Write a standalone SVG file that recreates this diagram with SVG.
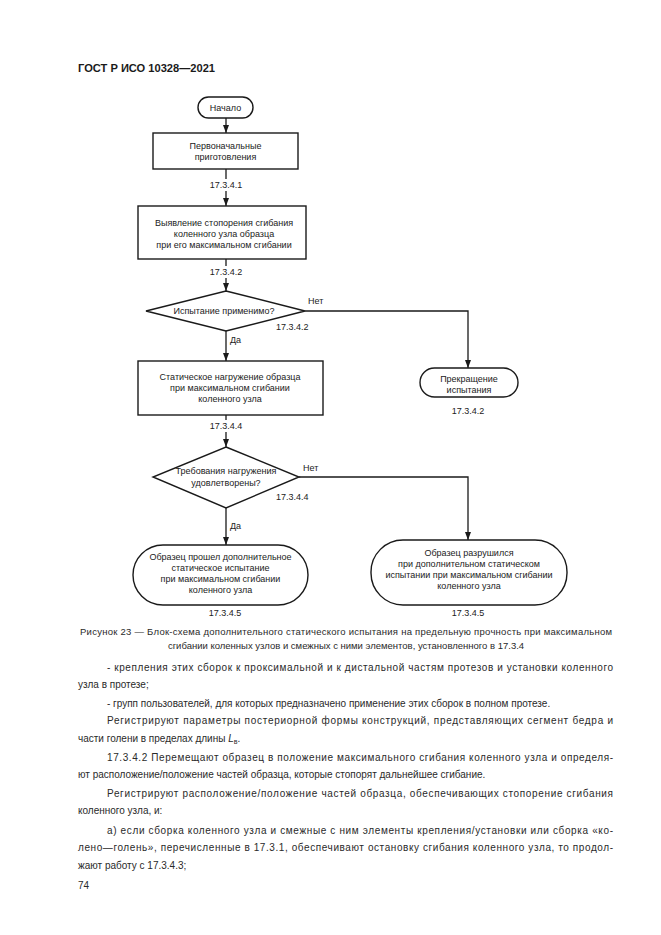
<svg xmlns="http://www.w3.org/2000/svg" width="661" height="935" viewBox="0 0 661 935">
<style>
.bg{fill:#fff}
.shape{fill:#fff;stroke:#1a1a1a;stroke-width:1.4}
.edge{fill:none;stroke:#1a1a1a;stroke-width:1.3}
.t{font-family:"Liberation Sans",Arial,sans-serif;font-size:9px;fill:#222;text-anchor:middle}
.lbl{font-family:"Liberation Sans",Arial,sans-serif;font-size:9px;fill:#222}
.body{font-family:"Liberation Sans",Arial,sans-serif;font-size:10px;fill:#2a2a2a}
.cap{font-family:"Liberation Sans",Arial,sans-serif;font-size:9.5px;fill:#2a2a2a}
.hdr{font-family:"Liberation Sans",Arial,sans-serif;font-size:11px;font-weight:bold;fill:#1a1a1a}
</style>
<defs>
<marker id="arr" viewBox="0 0 8 8" refX="8" refY="4" markerWidth="8" markerHeight="8" markerUnits="userSpaceOnUse" orient="auto">
<path d="M0,1 L8,4 L0,7 Z" fill="#1a1a1a"/>
</marker>
</defs>
<rect class="bg" x="0" y="0" width="661" height="935"/>
<text class="hdr" x="78" y="72" textLength="137" lengthAdjust="spacingAndGlyphs">ГОСТ Р ИСО 10328—2021</text>

<g id="connectors">
<line class="edge" x1="226" y1="118" x2="226" y2="133" marker-end="url(#arr)"/>
<line class="edge" x1="226" y1="169" x2="226" y2="179"/>
<line class="edge" x1="226" y1="191" x2="226" y2="206" marker-end="url(#arr)"/>
<line class="edge" x1="226" y1="259" x2="226" y2="266"/>
<line class="edge" x1="226" y1="278" x2="226" y2="291" marker-end="url(#arr)"/>
<line class="edge" x1="226" y1="331" x2="226" y2="361" marker-end="url(#arr)"/>
<polyline class="edge" points="305,311 468,311 468,368" marker-end="url(#arr)"/>
<line class="edge" x1="226" y1="415" x2="226" y2="420"/>
<line class="edge" x1="226" y1="432" x2="226" y2="447" marker-end="url(#arr)"/>
<line class="edge" x1="226" y1="508" x2="226" y2="545" marker-end="url(#arr)"/>
<polyline class="edge" points="299,477 468,477 468,540" marker-end="url(#arr)"/>
<text class="lbl" x="226" y="188" text-anchor="middle">17.3.4.1</text>
<text class="lbl" x="226" y="275" text-anchor="middle">17.3.4.2</text>
<text class="lbl" x="308" y="304">Нет</text>
<text class="lbl" x="276" y="330">17.3.4.2</text>
<text class="lbl" x="230" y="343">Да</text>
<text class="lbl" x="226" y="429" text-anchor="middle">17.3.4.4</text>
<text class="lbl" x="303" y="471">Нет</text>
<text class="lbl" x="276" y="500">17.3.4.4</text>
<text class="lbl" x="230" y="529">Да</text>
</g>

<g id="start">
<rect class="shape" x="198" y="97" width="55" height="21" rx="10.5"/>
<text class="t" x="225.5" y="110.5">Начало</text>
</g>
<g id="prep">
<rect class="shape" x="153" y="133" width="145" height="36"/>
<text class="t" x="225.5" y="149">Первоначальные</text>
<text class="t" x="225.5" y="160">приготовления</text>
</g>
<g id="detect">
<rect class="shape" x="138" y="206" width="168" height="53"/>
<text class="t" x="224" y="226">Выявление стопорения сгибания</text>
<text class="t" x="224" y="237">коленного узла образца</text>
<text class="t" x="224" y="248">при его максимальном сгибании</text>
</g>
<g id="decision1">
<polygon class="shape" points="226,291 305,311 226,331 146,311"/>
<text class="t" x="224" y="314">Испытание применимо?</text>
</g>
<g id="stop">
<rect class="shape" x="420" y="368" width="98" height="29" rx="14.5"/>
<text class="t" x="469" y="382">Прекращение</text>
<text class="t" x="469" y="393">испытания</text>
<text class="lbl" x="468" y="414" text-anchor="middle">17.3.4.2</text>
</g>
<g id="load">
<rect class="shape" x="138" y="361" width="185" height="54"/>
<text class="t" x="230" y="380">Статическое нагружение образца</text>
<text class="t" x="230" y="391">при максимальном сгибании</text>
<text class="t" x="230" y="402">коленного узла</text>
</g>
<g id="decision2">
<polygon class="shape" points="226,447 299,477 226,508 153,477"/>
<text class="t" x="226" y="474">Требования нагружения</text>
<text class="t" x="226" y="486">удовлетворены?</text>
</g>
<g id="passed">
<rect class="shape" x="133" y="545" width="175" height="60" rx="30"/>
<text class="t" x="220.5" y="560">Образец прошел дополнительное</text>
<text class="t" x="220.5" y="571">статическое испытание</text>
<text class="t" x="220.5" y="582">при максимальном сгибании</text>
<text class="t" x="220.5" y="593">коленного узла</text>
<text class="lbl" x="225" y="616" text-anchor="middle">17.3.4.5</text>
</g>
<g id="failed">
<rect class="shape" x="371" y="540" width="196" height="65" rx="32"/>
<text class="t" x="469" y="556">Образец разрушился</text>
<text class="t" x="469" y="567">при дополнительном статическом</text>
<text class="t" x="469" y="578">испытании при максимальном сгибании</text>
<text class="t" x="469" y="589">коленного узла</text>
<text class="lbl" x="468" y="616" text-anchor="middle">17.3.4.5</text>
</g>

<text class="cap" x="80" y="635" textLength="532" lengthAdjust="spacing">Рисунок 23 — Блок-схема дополнительного статического испытания на предельную прочность при максимальном</text>
<text class="cap" x="346" y="649" text-anchor="middle">сгибании коленных узлов и смежных с ними элементов, установленного в 17.3.4</text>

<text class="body" x="107" y="671" textLength="506" lengthAdjust="spacing">- крепления этих сборок к проксимальной и к дистальной частям протезов и установки коленного</text>
<text class="body" x="78" y="688">узла в протезе;</text>
<text class="body" x="107" y="707">- групп пользователей, для которых предназначено применение этих сборок в полном протезе.</text>
<text class="body" x="107" y="724" textLength="506" lengthAdjust="spacing">Регистрируют параметры постериорной формы конструкций, представляющих сегмент бедра и</text>
<text class="body" x="78" y="742">части голени в пределах длины <tspan font-style="italic">L</tspan><tspan font-size="7" dy="2">в</tspan><tspan dy="-2">.</tspan></text>
<text class="body" x="107" y="761" textLength="506" lengthAdjust="spacing">17.3.4.2  Перемещают образец в положение максимального сгибания коленного узла и определя-</text>
<text class="body" x="78" y="778">ют расположение/положение частей образца, которые стопорят дальнейшее сгибание.</text>
<text class="body" x="107" y="797" textLength="506" lengthAdjust="spacing">Регистрируют расположение/положение частей образца, обеспечивающих стопорение сгибания</text>
<text class="body" x="78" y="814">коленного узла, и:</text>
<text class="body" x="107" y="834" textLength="506" lengthAdjust="spacing">а) если сборка коленного узла и смежные с ним элементы крепления/установки или сборка «ко-</text>
<text class="body" x="78" y="851" textLength="535" lengthAdjust="spacing">лено—голень», перечисленные в 17.3.1, обеспечивают остановку сгибания коленного узла, то продол-</text>
<text class="body" x="78" y="869">жают работу с 17.3.4.3;</text>
<text class="body" x="78" y="889">74</text>
</svg>
